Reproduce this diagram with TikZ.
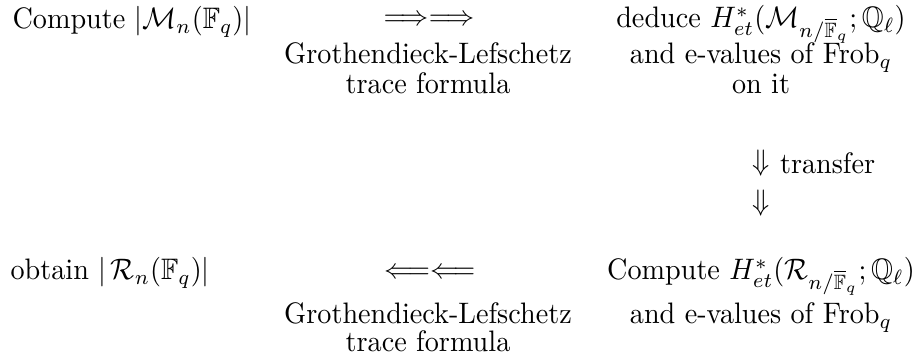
\documentclass[tikz,border=0pt]{standalone}
\usepackage{amssymb}
\usepackage{graphicx}
\newcommand\hoch[1]{\scalebox{1}[1.05]{#1}}
\newcommand\zeilem[4]{\node[anchor=base,inner sep=0] (#1) at (#2,#3) {\hoch{#4}};}
\newcommand\zeilel[4]{\node[anchor=base west,inner sep=0] (#1) at (#2,#3) {\hoch{#4}};}
\newcommand\Fqbar{\overline{\mathbb{F}}_q}

\begin{document}
\begin{tikzpicture}[x=0.3546pt,y=-0.3546pt]
\useasboundingbox (0,0) rectangle (921,364);
\tikzset{pfeil/.style={inner sep=0}}

% ---- obere Zeile: Zaehlen ueber F_q, dann Kohomologie ablesen
\zeilel{mzahl}{12}{29}{Compute $|\mathcal{M}_n(\mathbb{F}_q)|$}
\node[pfeil] (hin) at (429,20) {$\Longrightarrow\Longrightarrow$};
\zeilem{gla}{428}{64}{Grothendieck-Lefschetz}
\zeilem{glb}{428}{94}{trace formula}
\zeilem{mkoha}{761}{28}{deduce $H^*_{et}(\mathcal{M}_{n/\Fqbar};\mathbb{Q}_\ell)$}
\zeilem{mkohb}{761}{64}{and e-values of $\mathrm{Frob}_q$}
\zeilem{mkohc}{761}{94}{on it}

% ---- Uebertragung nach unten
\node[pfeil] (runtera) at (761,163) {\hoch{$\Downarrow$}};
\node[anchor=west,inner sep=0] (transfer) at ([xshift=3.3pt]runtera.east) {\hoch{transfer}};
\node[pfeil] (runterb) at (761,203) {\hoch{$\Downarrow$}};

% ---- untere Zeile: Kohomologie berechnen, dann Anzahl zurueckgewinnen
\zeilel{rzahl}{10}{280}{obtain $|\,\mathcal{R}_n(\mathbb{F}_q)|$}
\node[pfeil] (zurueck) at (430,273) {$\Longleftarrow\Longleftarrow$};
\zeilem{glc}{428}{324}{Grothendieck-Lefschetz}
\zeilem{gld}{428}{352}{trace formula}
\zeilem{rkoha}{761}{280}{Compute $H^*_{et}(\mathcal{R}_{n/\Fqbar};\mathbb{Q}_\ell)$}
\zeilem{rkohb}{761}{324}{and e-values of $\mathrm{Frob}_q$}
\end{tikzpicture}
\end{document}
